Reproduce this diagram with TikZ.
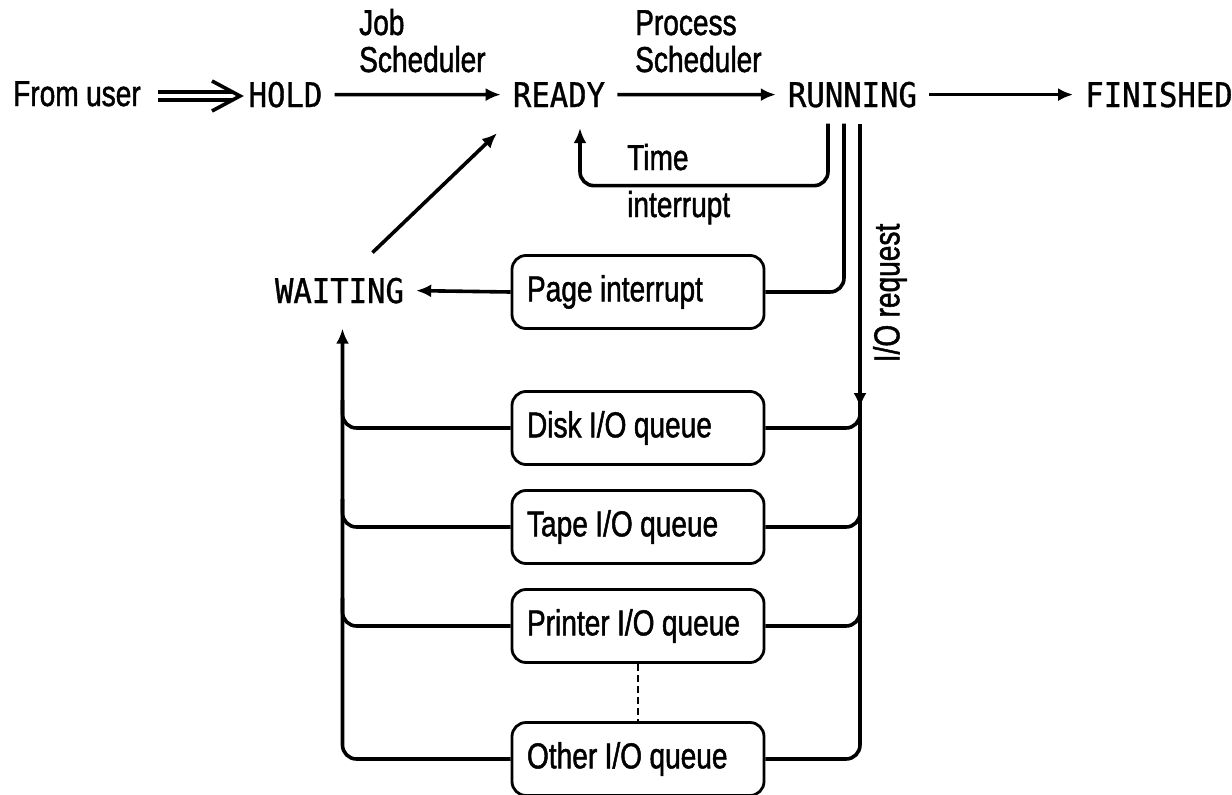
\documentclass[tikz,border=0pt]{standalone}
\usepackage{fontspec}
\setmainfont{Liberation Sans}[FakeStretch=0.78, FakeBold=1.3, WordSpace=0.95]
\newfontfamily\statefont{DejaVu Sans Mono}[FakeStretch=0.9, FakeBold=1.0]
\usetikzlibrary{arrows.meta}
\newcommand{\qtext}[1]{\makebox[222pt][l]{#1}}
\begin{document}
\begin{tikzpicture}[x=1pt,y=-1pt,
  lab/.style={inner sep=0pt, font=\fontsize{36}{37}\selectfont, align=left},
  state/.style={inner xsep=12pt, inner ysep=16pt, font=\statefont\fontsize{34}{36}\selectfont},
  qbox/.style={draw, line width=2.8pt, rounded corners=14pt, minimum height=73pt, inner xsep=15pt, font=\fontsize{36}{37}\selectfont},
  arr/.style={line width=3.6pt, -{Latex[length=15pt,width=13pt]}},
  wire/.style={line width=3.6pt},
  dbl/.style={line width=3.8pt, double distance=4pt},
  chev/.style={line width=3.6pt, line join=miter, line cap=butt},
]
\useasboundingbox (0,0) rectangle (1232,795);

% labels (base anchor = baseline of the last line)
\node[lab, anchor=base west] (from) at (13,106) {From user};
\node[lab, anchor=base west] (jobs) at (359,72) {Job\\Scheduler};
\node[lab, anchor=base west] (procs) at (635,72) {Process\\Scheduler};
\node[lab, anchor=base west] (timel) at (627,217) {Time\\[10pt]interrupt};
\node[lab, rotate=90] (ioreq) at (890,293) {I/O request};

% states
\node[state, anchor=base] (hold) at (285.5,107) {HOLD};
\node[state, anchor=base] (ready) at (559,107) {READY};
\node[state, anchor=base] (running) at (852.5,107) {RUNNING};
\node[state, anchor=base] (finished) at (1159,107) {FINISHED};
\node[state, anchor=base] (waiting) at (339.5,303) {WAITING};

% boxes
\node[qbox] (page) at (638,292) {\qtext{Page interrupt}};
\node[qbox] (disk) at (638,428) {\qtext{Disk I/O queue}};
\node[qbox] (tape) at (638,527) {\qtext{Tape I/O queue}};
\node[qbox] (printer) at (638,626) {\qtext{Printer I/O queue}};
\node[qbox] (other) at (638,759) {\qtext{Other I/O queue}};

% helper coordinates
\coordinate (iot) at ([xshift=7.5pt]running.south |- 0,408);
\coordinate (wt) at ([xshift=3pt,yshift=-9pt]waiting.south);
\coordinate (dtip) at (240,96);

% top row
\draw[dbl] ([xshift=17pt]from.east |- dtip) -- ([xshift=-8pt]dtip);
\draw[chev] ([xshift=-28pt,yshift=15pt]dtip) -- (dtip) -- ([xshift=-28pt,yshift=-15pt]dtip);
\draw[arr] (hold) -- (ready);
\draw[arr] (ready) -- (running);
\draw[arr] (running) -- (finished);

% time interrupt
\draw[arr, rounded corners=14pt] ([xshift=-24.5pt]running.south) -- ++(0,62) -| ([xshift=21pt,yshift=-5pt]ready.south);
% page interrupt
\draw[wire, rounded corners=14pt] ([xshift=-8.5pt]running.south) |- (page.east);
\draw[arr] (page.west) -- (waiting.east);
\draw[arr] ([xshift=33pt,yshift=9pt]waiting.north) -- ([xshift=-62pt,yshift=-10pt]ready.south);
% I/O request
\draw[arr] ([xshift=7.5pt]running.south) -- (iot);

% right bus
\draw[wire, rounded corners=14pt] (other.east) -| (iot);
\foreach \b in {disk,tape,printer}{
  \draw[wire, rounded corners=14pt] (\b.east) -- (\b.east -| iot) -- ++(0,-28);
}
% left bus
\draw[arr, rounded corners=14pt] (other.west) -| (wt);
\foreach \b in {disk,tape,printer}{
  \draw[wire, rounded corners=14pt] (\b.west) -- (\b.west -| wt) -- ++(0,-28);
}
% dashed
\draw[line width=2pt, dash pattern=on 7pt off 4pt] (printer.south) -- (other.north);
\end{tikzpicture}
\end{document}
